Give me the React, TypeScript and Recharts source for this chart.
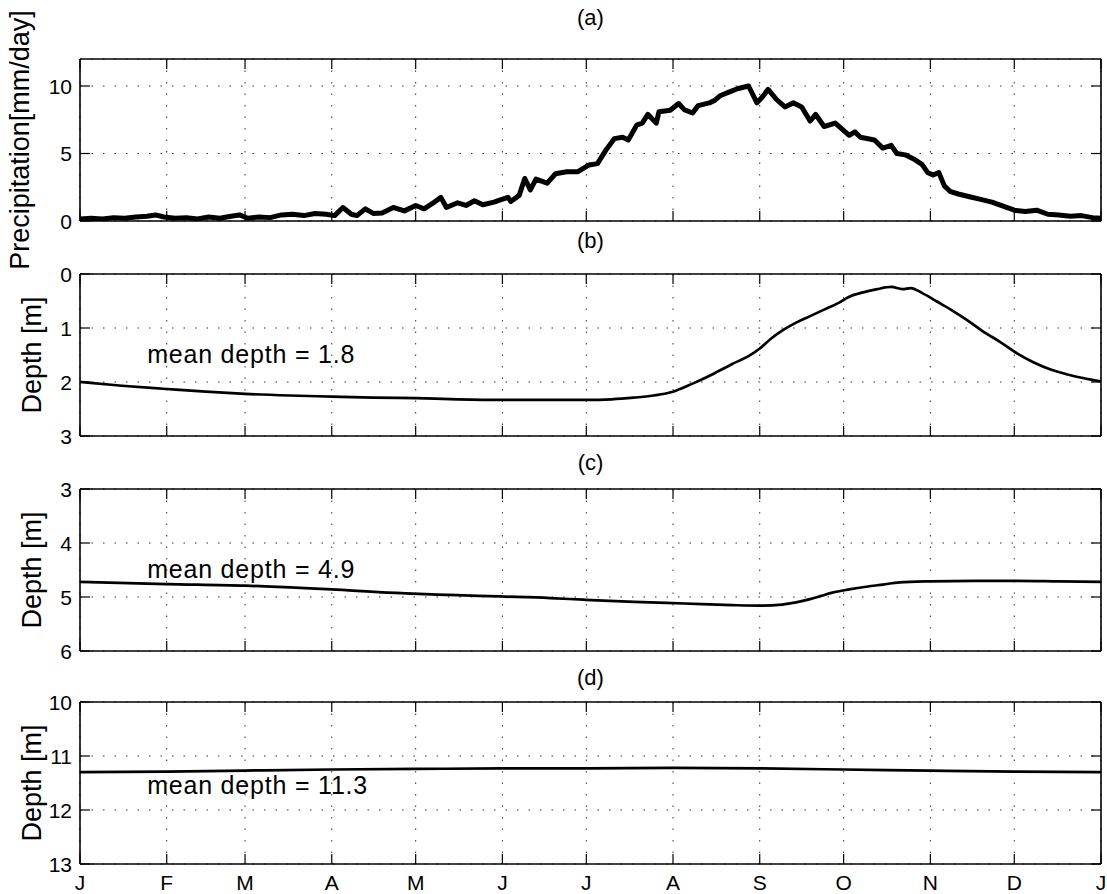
import React from 'react';
import { LineChart, Line, XAxis, YAxis, CartesianGrid, ReferenceDot, Label } from 'recharts';

const monthTicks = [0, 31, 59, 90, 120, 151, 181, 212, 243, 273, 304, 334, 365];
const monthLabels = ['J', 'F', 'M', 'A', 'M', 'J', 'J', 'A', 'S', 'O', 'N', 'D', 'J'];

// (a) daily precipitation, mm/day
const precipDays = [
  0, 4, 8, 12, 16, 20, 24, 27, 30, 34, 38, 42, 46, 50, 54, 57, 60, 64, 68, 72, 76, 80, 84, 88, 91, 94, 97, 99,
  102, 105, 108, 112, 116, 120, 123, 126, 129, 131, 135, 138, 141, 144, 148, 150, 153, 154, 157, 159, 161, 163,
  167, 170, 174, 178, 182, 185, 188, 191, 194, 196, 199, 201, 203, 206, 207, 211, 214, 216, 219, 221, 225, 227,
  229, 232, 235, 239, 242, 244, 246, 249, 252, 255, 258, 261, 263, 266, 270, 275, 277, 279, 284, 287, 290, 292,
  295, 298, 301, 303, 305, 307, 309, 311, 314, 318, 322, 326, 330, 334, 338, 342, 346, 350, 354, 358, 362, 365,
];
const precipValues = [
  0.15, 0.2, 0.15, 0.25, 0.2, 0.3, 0.35, 0.45, 0.3, 0.2, 0.25, 0.15, 0.3, 0.2, 0.35, 0.45, 0.2, 0.3, 0.25, 0.45,
  0.5, 0.4, 0.55, 0.5, 0.4, 1.0, 0.5, 0.4, 0.9, 0.55, 0.6, 1.0, 0.75, 1.15, 0.9, 1.3, 1.75, 1.0, 1.35, 1.15, 1.5,
  1.2, 1.4, 1.55, 1.75, 1.45, 1.9, 3.15, 2.3, 3.1, 2.8, 3.5, 3.65, 3.65, 4.15, 4.25, 5.25, 6.1, 6.2, 6.0, 7.1,
  7.25, 7.9, 7.25, 8.1, 8.2, 8.7, 8.25, 8.0, 8.55, 8.75, 8.95, 9.3, 9.55, 9.8, 10.0, 8.75, 9.2, 9.75, 9.0, 8.45,
  8.75, 8.45, 7.4, 7.9, 7.0, 7.25, 6.35, 6.6, 6.2, 6.0, 5.4, 5.6, 5.0, 4.9, 4.6, 4.2, 3.6, 3.4, 3.6, 2.6, 2.2,
  2.0, 1.8, 1.6, 1.4, 1.1, 0.8, 0.7, 0.8, 0.5, 0.45, 0.35, 0.4, 0.25, 0.2,
];

// (b) shallow level depth, m
const shallowDays = [
  0, 15, 31, 45, 59, 75, 90, 105, 120, 135, 151, 166, 181, 190, 198, 205, 212, 219, 226, 233, 240, 243, 247,
  251, 256, 261, 266, 271, 275, 280, 285, 290, 294, 297, 301, 306, 311, 317, 323, 329, 335, 341, 347, 353, 359, 365,
];
const shallowDepth = [
  2.0, 2.07, 2.13, 2.18, 2.22, 2.25, 2.27, 2.29, 2.3, 2.32, 2.33, 2.33, 2.33, 2.32, 2.29, 2.25, 2.18, 2.03, 1.86,
  1.67, 1.49, 1.38, 1.2, 1.05, 0.9, 0.78, 0.66, 0.54, 0.42, 0.34, 0.28, 0.24, 0.28, 0.26, 0.35, 0.5, 0.65, 0.85,
  1.07, 1.26, 1.47, 1.64, 1.77, 1.86, 1.93, 1.99,
];

// (c) middle level depth, m
const middleDays = [
  0, 31, 59, 90, 110, 132, 150, 168, 180, 198, 216, 233, 243, 251, 256, 261, 265, 269, 275, 281, 287, 293, 304,
  320, 334, 350, 365,
];
const middleDepth = [
  4.72, 4.76, 4.79, 4.86, 4.92, 4.96, 4.99, 5.02, 5.05, 5.09, 5.12, 5.15, 5.16, 5.14, 5.1, 5.04, 4.98, 4.92, 4.86,
  4.81, 4.77, 4.73, 4.71, 4.7, 4.7, 4.71, 4.72,
];

// (d) deep level depth, m
const deepDays = [0, 31, 59, 90, 120, 151, 181, 212, 243, 273, 304, 334, 365];
const deepDepth = [11.3, 11.29, 11.27, 11.25, 11.24, 11.23, 11.23, 11.22, 11.23, 11.25, 11.27, 11.29, 11.3];

const FONT = '"Liberation Sans", Arial, Helvetica, sans-serif';
const TICK = 10;

const toData = (days: number[], values: number[]) => days.map((d, i) => ({ day: d, v: values[i] }));

const LeftTick = (props: any) => {
  const { x, y, payload } = props;
  return (
    <g>
      <line x1={x + 8} x2={x + 8 + TICK} y1={y} y2={y} stroke="#000" strokeWidth={1.2} />
      <text x={x} y={y + 7.5} textAnchor="end" fontSize={21} fontFamily={FONT} fill="#000">
        {payload.value}
      </text>
    </g>
  );
};

const RightTick = (props: any) => (
  <line x1={props.x} x2={props.x - TICK} y1={props.y} y2={props.y} stroke="#000" strokeWidth={1.2} />
);

const TopTick = (props: any) => (
  <line x1={props.x} x2={props.x} y1={props.y} y2={props.y + TICK} stroke="#000" strokeWidth={1.2} />
);

const BottomTick = (props: any) => {
  const { x, y, payload, showLabel } = props;
  return (
    <g>
      <line x1={x} x2={x} y1={y} y2={y - TICK} stroke="#000" strokeWidth={1.2} />
      {showLabel && (
        <text x={x} y={y + 26} textAnchor="middle" fontSize={21} fontFamily={FONT} fill="#000">
          {monthLabels[monthTicks.indexOf(payload.value)]}
        </text>
      )}
    </g>
  );
};

interface PanelProps {
  top: number;
  height: number;
  plotTop: number;
  plotBottom: number;
  title: string;
  titleGap: number;
  yLabel: string;
  yLabelX: number;
  yDomain: [number, number];
  yTicks: number[];
  reversed: boolean;
  data: { day: number; v: number }[];
  strokeWidth: number;
  curve: 'linear' | 'monotone';
  note?: string;
  noteY?: number;
  showMonths?: boolean;
}

const Panel: React.FC<PanelProps> = (p) => {
  const axisLine = { stroke: '#000', strokeWidth: 1.6 };
  const bottomH = p.showMonths ? p.height - p.plotBottom : 1;
  return (
    <div style={{ position: 'absolute', left: 0, top: p.top }}>
      <LineChart
        width={1107}
        height={p.height}
        data={p.data}
        margin={{ top: p.plotTop - 1, right: 5, bottom: p.height - p.plotBottom - bottomH, left: 0 }}
      >
        <CartesianGrid stroke="#333" strokeWidth={1} strokeDasharray="1.5 10" />
        <XAxis
          dataKey="day"
          type="number"
          domain={[0, 365]}
          ticks={monthTicks}
          interval={0}
          allowDataOverflow
          height={bottomH}
          tickSize={0}
          tickMargin={0}
          axisLine={axisLine}
          tickLine={false}
          tick={(t: any) => <BottomTick {...t} showLabel={p.showMonths} />}
        />
        <XAxis
          xAxisId="t"
          orientation="top"
          dataKey="day"
          type="number"
          domain={[0, 365]}
          ticks={monthTicks}
          interval={0}
          allowDataOverflow
          height={1}
          tickSize={0}
          tickMargin={0}
          axisLine={axisLine}
          tickLine={false}
          tick={TopTick}
        >
          <Label
            content={(lp: any) => (
              <text
                x={lp.viewBox.x + lp.viewBox.width / 2}
                y={lp.viewBox.y + lp.viewBox.height - p.titleGap}
                textAnchor="middle"
                fontSize={22}
                fontFamily={FONT}
                fill="#000"
              >
                {p.title}
              </text>
            )}
          />
        </XAxis>
        <YAxis
          type="number"
          domain={p.yDomain}
          ticks={p.yTicks}
          interval={0}
          reversed={p.reversed}
          allowDataOverflow
          width={80}
          tickSize={0}
          tickMargin={8}
          axisLine={axisLine}
          tickLine={false}
          tick={LeftTick}
        >
          <Label
            content={(lp: any) => {
              const cy = lp.viewBox.y + lp.viewBox.height / 2;
              return (
                <text
                  x={p.yLabelX}
                  y={cy}
                  transform={`rotate(-90 ${p.yLabelX} ${cy})`}
                  textAnchor="middle"
                  fontSize={27}
                  fontFamily={FONT}
                  fill="#000"
                >
                  {p.yLabel}
                </text>
              );
            }}
          />
        </YAxis>
        <YAxis
          yAxisId="r"
          orientation="right"
          type="number"
          domain={p.yDomain}
          ticks={p.yTicks}
          interval={0}
          reversed={p.reversed}
          allowDataOverflow
          width={1}
          tickSize={0}
          tickMargin={0}
          axisLine={axisLine}
          tickLine={false}
          tick={RightTick}
        />
        <Line
          dataKey="v"
          type={p.curve}
          dot={false}
          stroke="#000"
          strokeWidth={p.strokeWidth}
          strokeLinejoin="round"
          isAnimationActive={false}
        />
        {p.note && (
          <ReferenceDot
            x={24}
            y={p.noteY}
            r={0}
            fill="none"
            stroke="none"
            label={{
              content: (lp: any) => (
                <text
                  x={lp.viewBox.x}
                  y={lp.viewBox.y + 8}
                  fontSize={25}
                  letterSpacing={0.8}
                  fontFamily={FONT}
                  fill="#000"
                >
                  {p.note}
                </text>
              ),
            }}
          />
        )}
      </LineChart>
    </div>
  );
};

export default function App() {
  return (
    <div style={{ position: 'absolute', left: 0, top: 0, width: 1107, height: 894, background: '#fff', overflow: 'hidden' }}>
      <Panel
        top={0}
        height={285}
        plotTop={59}
        plotBottom={221}
        title="(a)"
        titleGap={34}
        yLabel="Precipitation[mm/day]"
        yLabelX={29}
        yDomain={[0, 12]}
        yTicks={[0, 5, 10]}
        reversed={false}
        data={toData(precipDays, precipValues)}
        strokeWidth={5}
        curve="linear"
      />
      <Panel
        top={224}
        height={236}
        plotTop={50}
        plotBottom={212}
        title="(b)"
        titleGap={26}
        yLabel="Depth [m]"
        yLabelX={41}
        yDomain={[0, 3]}
        yTicks={[0, 1, 2, 3]}
        reversed
        data={toData(shallowDays, shallowDepth)}
        strokeWidth={2.7}
        curve="monotone"
        note="mean depth = 1.8"
        noteY={1.5}
      />
      <Panel
        top={439}
        height={236}
        plotTop={50}
        plotBottom={212}
        title="(c)"
        titleGap={19}
        yLabel="Depth [m]"
        yLabelX={41}
        yDomain={[3, 6]}
        yTicks={[3, 4, 5, 6]}
        reversed
        data={toData(middleDays, middleDepth)}
        strokeWidth={2.7}
        curve="monotone"
        note="mean depth = 4.9"
        noteY={4.5}
      />
      <Panel
        top={652}
        height={242}
        plotTop={50}
        plotBottom={212}
        title="(d)"
        titleGap={17}
        yLabel="Depth [m]"
        yLabelX={41}
        yDomain={[10, 13]}
        yTicks={[10, 11, 12, 13]}
        reversed
        data={toData(deepDays, deepDepth)}
        strokeWidth={2.7}
        curve="monotone"
        note="mean depth = 11.3"
        noteY={11.55}
        showMonths
      />
    </div>
  );
}
